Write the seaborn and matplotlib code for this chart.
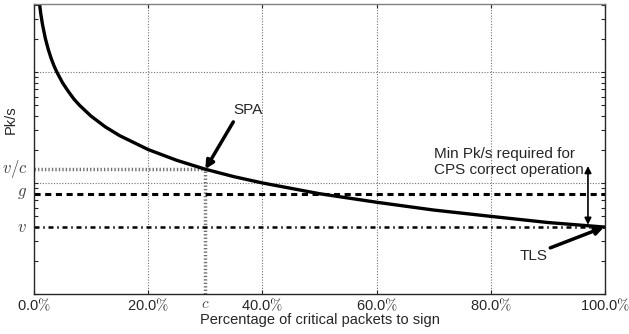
import numpy as np
import pandas as pd
import seaborn as sns
import matplotlib
matplotlib.use("Agg")
from matplotlib import pyplot as plt

# values (x in %, y in Pk/s, log scale)
pct = [0.9, 1.2, 1.5, 2, 2.5, 3, 3.5, 4, 5, 6, 7, 8, 10, 12.5, 15, 20, 25, 30, 35, 40, 50, 60, 70, 80, 90, 100]
pks = [44, 33.3, 26.7, 20, 16, 13.3, 11.4, 10, 8, 6.7, 5.7, 5, 4, 3.2, 2.67, 2, 1.6, 1.33, 1.14, 1.0, 0.8, 0.67, 0.57, 0.5, 0.44, 0.4]
v = 0.4        # TLS rate
g = 0.8        # minimum required
c = 30         # SPA critical percentage
v_over_c = 1.33
xticks = [0, 20, 40, 60, 80, 100]
xlabels = ["0.0$\\%$", "20.0$\\%$", "40.0$\\%$", "60.0$\\%$", "80.0$\\%$", "100.0$\\%$"]

df = pd.DataFrame({"pct": pct, "pks": pks})

sns.set_style("ticks")
plt.rcParams["font.family"] = ["Liberation Sans", "DejaVu Sans"]
plt.rcParams["mathtext.fontset"] = "cm"

fig = plt.figure(figsize=(6.29, 3.34), dpi=100)
ax = fig.add_axes([0.054, 0.12, 0.908, 0.868])

sns.lineplot(data=df, x="pct", y="pks", color="black", lw=2.4, ax=ax)
ax.set_yscale("log")
ax.set_xlim(0, 100)
ax.set_ylim(0.1, 41)

# grid
for xx in [20, 40, 60, 80]:
    ax.axvline(xx, color="0.45", lw=0.8, ls=(0, (1, 1.5)), zorder=0)
for yy in [1, 10]:
    ax.axhline(yy, color="0.45", lw=0.8, ls=(0, (1, 1.5)), zorder=0)

# reference lines
ax.plot([0, c], [v_over_c, v_over_c], color="0.45", lw=2.5, ls=(0, (0.4, 0.6)), zorder=1)
ax.plot([c, c], [0.1, v_over_c], color="0.45", lw=2.5, ls=(0, (0.4, 0.6)), zorder=1)
ax.axhline(g, color="black", lw=2.2, ls=(0, (2, 1.5)), zorder=1)
ax.axhline(v, color="black", lw=1.8, ls=(0, (2, 1.5, 0.6, 1.5)), zorder=1)

ax.set_xticks(xticks)
ax.set_xticklabels(xlabels, fontsize=10.5)
ax.set_yticks([0.1, 1, 10])
ax.set_yticklabels([])
ax.yaxis.set_minor_formatter(matplotlib.ticker.NullFormatter())
ax.tick_params(axis="both", which="both", direction="in", top=True, right=True, length=3, width=0.8)
ax.tick_params(axis="x", pad=2)
for s in ax.spines.values():
    s.set_linewidth(1.0)
ax.spines["top"].set_color("0.5")

# labels on the y axis
trans = matplotlib.transforms.blended_transform_factory(ax.transAxes, ax.transData)
ax.text(-0.012, v_over_c, "$v/c$", transform=trans, ha="right", va="center", fontsize=12, color="0.25")
ax.text(-0.012, g, "$g$", transform=trans, ha="right", va="center", fontsize=12, color="0.25")
ax.text(-0.012, v, "$v$", transform=trans, ha="right", va="center", fontsize=12, color="0.25")
ax.text(c, 0.094, "$c$", ha="center", va="top", fontsize=11, color="0.3")

ax.set_xlabel("Percentage of critical packets to sign", fontsize=10.5, labelpad=0)
ax.set_ylabel("Pk/s", fontsize=10.5)
ax.yaxis.set_label_coords(-0.028, 0.6)

arrow = dict(arrowstyle="-|>", color="black", lw=2.5, mutation_scale=12, shrinkA=0, shrinkB=0)
ax.text(37.5, 4.5, "SPA", fontsize=11, ha="center", va="center")
ax.annotate("", xy=(c, v_over_c), xytext=(34.9, 3.55), arrowprops=arrow)
ax.text(87.4, 0.22, "TLS", fontsize=11, ha="center", va="center")
ax.annotate("", xy=(99.8, v), xytext=(90.4, 0.26), arrowprops=arrow)
ax.text(70, 1.55, "Min Pk/s required for\nCPS correct operation", fontsize=11,
        ha="left", va="center", linespacing=1.2)
ax.annotate("", xy=(97, 1.42), xytext=(97, 0.42),
            arrowprops=dict(arrowstyle="<|-|>", color="black", lw=1.2, mutation_scale=10,
                            shrinkA=0, shrinkB=0))

fig.savefig("out.png", dpi=100)
